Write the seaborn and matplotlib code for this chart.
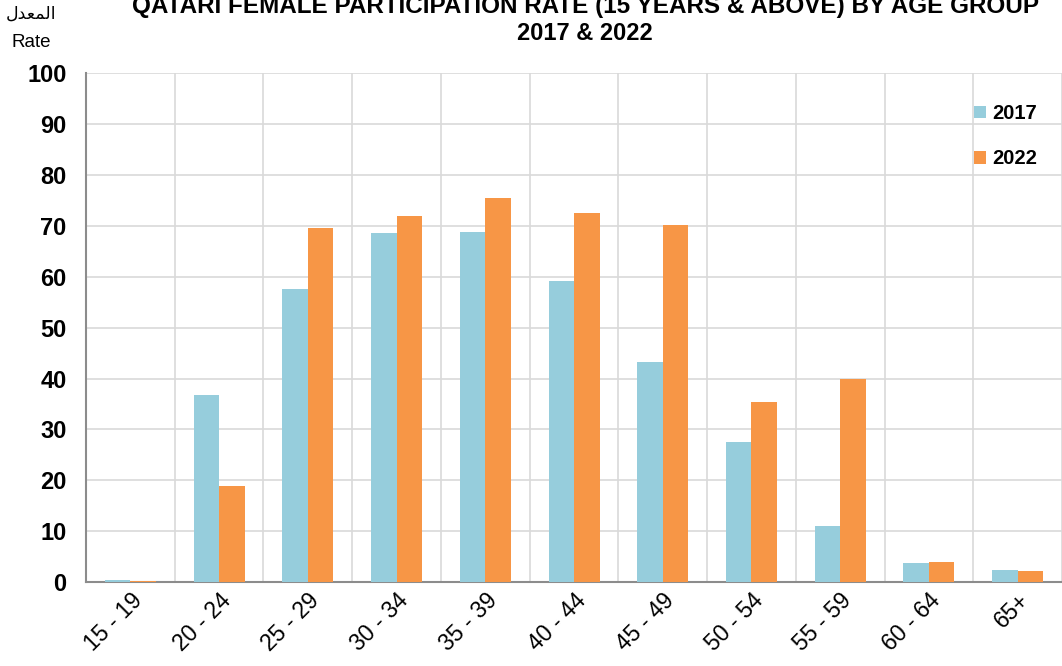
import matplotlib
matplotlib.use("Agg")
import matplotlib.pyplot as plt
import seaborn as sns
import pandas as pd
import numpy as np

# data
age_groups = ['15 - 19', '20 - 24', '25 - 29', '30 - 34', '35 - 39', '40 - 44',
              '45 - 49', '50 - 54', '55 - 59', '60 - 64', '65+']
rate_2017 = [0.5, 36.7, 57.6, 68.7, 68.8, 59.1, 43.2, 27.6, 11.1, 3.8, 2.3]
rate_2022 = [0.2, 18.8, 69.5, 71.9, 75.4, 72.6, 70.1, 35.4, 39.9, 4.0, 2.1]
years = ['2017', '2022']
colors = ['#96CDDC', '#F79646']

df = pd.DataFrame({
    'age': age_groups * 2,
    'year': ['2017'] * len(age_groups) + ['2022'] * len(age_groups),
    'rate': rate_2017 + rate_2022,
})

sns.set_style('white')
plt.rcParams['font.family'] = ['Liberation Sans', 'DejaVu Sans']
plt.rcParams['text.color'] = 'black'
plt.rcParams['xtick.labelcolor'] = 'black'
plt.rcParams['ytick.labelcolor'] = 'black'

fig = plt.figure(figsize=(10.62, 6.66), dpi=100)
ax = fig.add_axes([0.081, 0.126, 0.919, 0.764])

sns.barplot(data=df, x='age', y='rate', hue='year', hue_order=years,
            palette=colors, width=0.575, saturation=1, ax=ax, zorder=3,
            edgecolor='none')

ax.set_ylim(0, 100)
ax.set_xlim(-0.5, len(age_groups) - 0.5)
ax.set_yticks(np.arange(0, 101, 10))
ax.set_xticks(np.arange(-0.5, len(age_groups), 1), minor=True)

ax.grid(axis='y', color='#D9D9D9', lw=1.2, zorder=0)
ax.grid(axis='x', which='minor', color='#D9D9D9', lw=1.2, zorder=0)
ax.set_axisbelow(True)

for s in ['top', 'right']:
    ax.spines[s].set_visible(False)
for s in ['left', 'bottom']:
    ax.spines[s].set_color('#8C8C8C')
    ax.spines[s].set_linewidth(1.5)

ax.tick_params(axis='y', which='major', direction='out', length=6,
               color='#8C8C8C', width=1.2, labelsize=17, pad=8)
ax.tick_params(axis='x', which='major', length=0, labelsize=16.5, pad=5)
ax.tick_params(axis='x', which='minor', direction='out', length=7,
               color='#8C8C8C', width=1.5)
for lbl in ax.get_yticklabels():
    lbl.set_fontweight('bold')
plt.setp(ax.get_xticklabels(), rotation=45, ha='right', rotation_mode='anchor')

ax.set_xlabel('')
ax.set_ylabel('')

leg = ax.legend(loc='upper right', bbox_to_anchor=(0.993, 0.975), frameon=False,
                handlelength=0.6, handleheight=0.6, handletextpad=0.3,
                labelspacing=1.3, prop={'weight': 'bold', 'size': 14.5})

fig.text(0.551, 0.99, 'QATARI FEMALE PARTICIPATION RATE (15 YEARS & ABOVE) BY AGE GROUP',
         ha='center', va='center', fontsize=17.5, fontweight='bold')
fig.text(0.551, 0.949, '2017 & 2022', ha='center', va='center',
         fontsize=17, fontweight='bold')

# arabic "المعدل" pre-shaped (presentation forms, visual order)
arabic = '\uFEDD\uFEAA\uFECC\uFEE4\uFEDF\uFE8D'
fig.text(0.029, 0.98, arabic, ha='center', va='center', fontsize=12.5,
         family=['DejaVu Sans'])
fig.text(0.029, 0.936, 'Rate', ha='center', va='center', fontsize=13.5)

fig.savefig('out.png', dpi=100)
